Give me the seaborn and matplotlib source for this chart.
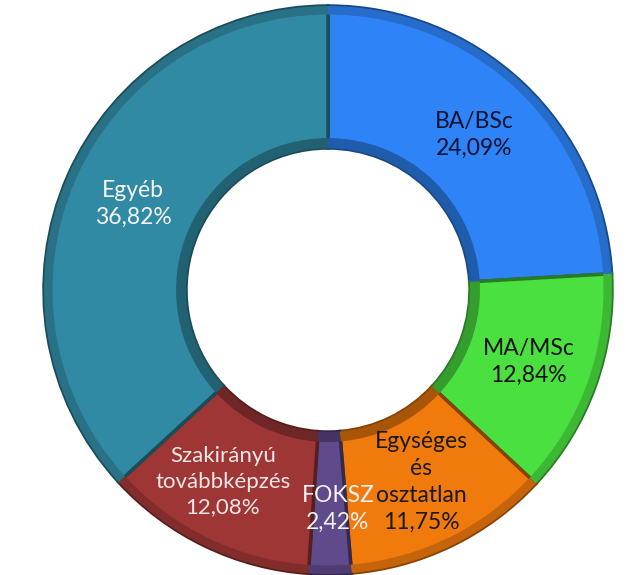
import matplotlib
matplotlib.use("Agg")
import matplotlib.pyplot as plt
import seaborn as sns
import matplotlib.colors as mcolors

categories = ["BA/BSc", "MA/MSc", "Egységes\nés\nosztatlan", "FOKSZ",
              "Szakirányú\ntovábbképzés", "Egyéb"]
shares = [24.09, 12.84, 11.75, 2.42, 12.08, 36.82]
colors = ["#2e84f6", "#4ae040", "#f07a0c", "#5f4a8c", "#9e3636", "#318aa3"]
text_colors = ["#111133", "#111111", "#1a1a1a", "#f2f2f2", "#f3e6e6", "#f5f5f5"]

sns.set_theme(style="white")
plt.rcParams["font.family"] = ["Lato", "DejaVu Sans"]

fig = plt.figure(figsize=(6.3, 5.75), dpi=100)
ax = fig.add_axes([44 / 630, 1 / 575, 568 / 630, 568 / 575])


def darker(c, f=0.6):
    r, g, b = mcolors.to_rgb(c)
    return (r * f, g * f, b * f)


wedges, _, autotexts = ax.pie(
    shares, colors=colors, startangle=90, counterclock=False,
    autopct="%1.2f", pctdistance=0.75,
    wedgeprops=dict(width=0.5, linewidth=2.5),
)
for w, c in zip(wedges, colors):
    w.set_edgecolor(darker(c, 0.55))

# soft bevel: thin darker rings along the outer and inner edges
ax.pie(shares, colors=[darker(c, 0.82) for c in colors], startangle=90,
       counterclock=False, radius=1.0,
       wedgeprops=dict(width=0.03, linewidth=0))
ax.pie(shares, colors=[darker(c, 0.7) for c in colors], startangle=90,
       counterclock=False, radius=0.535,
       wedgeprops=dict(width=0.035, linewidth=0))

for t, lab, val, tc in zip(autotexts, categories, shares, text_colors):
    t.set_text(lab + "\n" + f"{val:.2f}".replace(".", ",") + "%")
    t.set_color(tc)
    t.set_fontsize(16.5)
    t.set_linespacing(1.35)
    t.set_zorder(10)

# small nudge so the FOKSZ label doesn't sit on top of its neighbour
x, y = autotexts[4].get_position()
autotexts[4].set_position((x - 0.045, y))
autotexts[4].set_fontsize(16)
x, y = autotexts[3].get_position()
autotexts[3].set_position((x + 0.03, y - 0.02))

ax.set_xlim(-1, 1)
ax.set_ylim(-1, 1)
ax.set_aspect("equal")
ax.axis("off")

fig.savefig("out.png", dpi=100, facecolor="white")
